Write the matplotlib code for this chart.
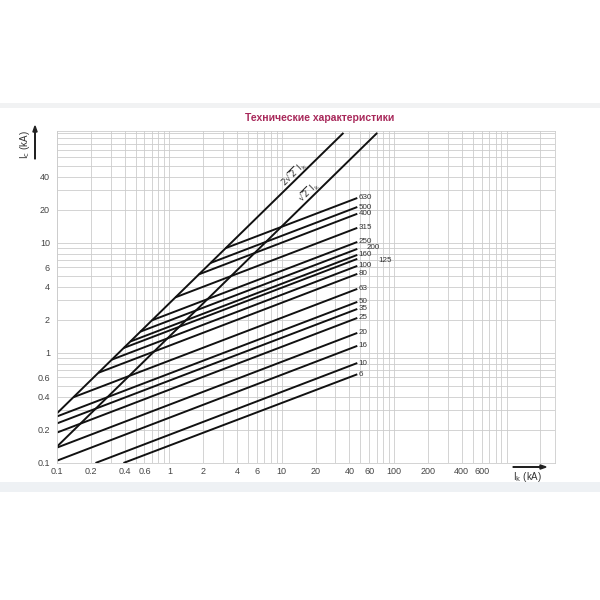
import matplotlib
matplotlib.use('Agg')
import matplotlib.pyplot as plt
import matplotlib.patches as mpatches
from matplotlib.ticker import FixedLocator, FixedFormatter, LogLocator, NullFormatter

plt.rcParams['font.family'] = ['Liberation Sans', 'DejaVu Sans']
plt.rcParams['mathtext.fontset'] = 'dejavusans'

# ── данные (кА) ──
ratings = ['6', '10', '16', '20', '25', '35', '50', '63', '80', '100',
           '125', '160', '200', '250', '315', '400', '500', '630']
start_ik = [0.39, 0.22, 0.1, 0.1, 0.1, 0.1, 0.1, 0.14, 0.233, 0.308,
            0.392, 0.449, 0.55, 0.70, 1.13, 1.83, 2.33, 3.17]
start_ic = [0.1, 0.1, 0.105, 0.138, 0.189, 0.229, 0.265, 0.396, 0.66, 0.87,
            1.11, 1.27, 1.56, 1.98, 3.2, 5.18, 6.58, 8.97]
end_ik = 47.0
end_ic = [0.64, 0.81, 1.16, 1.52, 2.08, 2.51, 2.91, 3.82, 5.23, 6.18,
          7.16, 7.78, 8.82, 10.2, 13.7, 18.4, 21.2, 25.6]

peak2_ik = [0.1, 35.4]      # 2√2 Ik
peak2_ic = [0.283, 100]
peak1_ik = [0.1, 70.7]      # √2 Ik
peak1_ic = [0.141, 100]

x_ticks = [0.1, 0.2, 0.4, 0.6, 1, 2, 4, 6, 10, 20, 40, 60, 100, 200, 400, 600]
x_labels = ['0.1', '0.2', '0.4', '0.6', '1', '2', '4', '6', '10', '20', '40', '60',
            '100', '200', '400', '600']
y_ticks = [0.1, 0.2, 0.4, 0.6, 1, 2, 4, 6, 10, 20, 40]
y_labels = ['0.1', '0.2', '0.4', '0.6', '1', '2', '4', '6', '10', '20', '40']

# ── рисунок ──
fig = plt.figure(figsize=(6, 6), dpi=100)
fig.patch.set_facecolor('white')

# полосы страницы
fig.patches.append(mpatches.Rectangle((0, 1 - 108 / 600), 1, 5 / 600, transform=fig.transFigure,
                                      facecolor='#f1f2f3', edgecolor='none', zorder=0))
fig.patches.append(mpatches.Rectangle((0, 1 - 492 / 600), 1, 10 / 600, transform=fig.transFigure,
                                      facecolor='#eef1f4', edgecolor='none', zorder=0))

fig.text(320 / 600, 1 - 118 / 600, 'Технические характеристики', color='#a8285a',
         fontsize=7.5, fontweight='bold', ha='center', va='center')

ax = fig.add_axes([57 / 600, 1 - 463 / 600, 498 / 600, 332 / 600])
ax.set_xscale('log')
ax.set_yscale('log')
ax.set_xlim(0.1, 2700)
ax.set_ylim(0.1, 104)

ax.xaxis.set_major_locator(FixedLocator(x_ticks))
ax.xaxis.set_major_formatter(FixedFormatter(x_labels))
ax.yaxis.set_major_locator(FixedLocator(y_ticks))
ax.yaxis.set_major_formatter(FixedFormatter(y_labels))
ax.xaxis.set_minor_locator(LogLocator(base=10, subs=range(1, 10), numticks=20))
ax.yaxis.set_minor_locator(LogLocator(base=10, subs=range(1, 10), numticks=20))
ax.xaxis.set_minor_formatter(NullFormatter())
ax.yaxis.set_minor_formatter(NullFormatter())
ax.tick_params(which='both', length=0, labelsize=6.5, labelcolor='#444444')
ax.tick_params(axis='y', pad=5)
ax.tick_params(axis='x', pad=3)
ax.grid(which='both', color='#cccccc', linewidth=0.6)
for s in ax.spines.values():
    s.set_color('#cccccc')
    s.set_linewidth(0.6)

ax.plot(peak2_ik, peak2_ic, color='#111111', lw=1.4, solid_capstyle='butt')
ax.plot(peak1_ik, peak1_ic, color='#111111', lw=1.4, solid_capstyle='butt')

label_dx = {'200': 6, '125': 14}
label_dy = {'200': 1, '125': -1.5}
for r, sx, sy, ey in zip(ratings, start_ik, start_ic, end_ic):
    ax.plot([sx, end_ik], [sy, ey], color='#111111', lw=1.4, solid_capstyle='butt')
    ax.annotate(r, (end_ik, ey), xytext=(1 + label_dx.get(r, 0), label_dy.get(r, 0)),
                textcoords='offset points', ha='left', va='center', fontsize=5.8, color='#333333')

ax.text(12.8, 42, r'$2\sqrt{2}\ \mathrm{I_k}$', rotation=44.5, ha='center', va='center',
        fontsize=6.5, color='#333333')
ax.text(17.5, 29, r'$\sqrt{2}\ \mathrm{I_k}$', rotation=44.5, ha='center', va='center',
        fontsize=6.5, color='#333333')

# подписи осей со стрелками
fig.text(25 / 600, 1 - 145 / 600, r'I$_\mathrm{c}$ (kA)', rotation=90, ha='center', va='center',
         fontsize=7, color='#333333')
fig.patches.append(mpatches.FancyArrow(35 / 600, 1 - 159 / 600, 0, 33 / 600, width=0.0008,
                                       head_width=0.007, head_length=0.01, length_includes_head=True,
                                       transform=fig.transFigure, color='#222222'))
fig.text(528 / 600, 1 - 477 / 600, r'I$_\mathrm{k}$ (kA)', ha='center', va='center',
         fontsize=7, color='#333333')
fig.patches.append(mpatches.FancyArrow(513 / 600, 1 - 467 / 600, 33 / 600, 0, width=0.0008,
                                       head_width=0.007, head_length=0.01, length_includes_head=True,
                                       transform=fig.transFigure, color='#222222'))

plt.savefig('out.png', dpi=100)
